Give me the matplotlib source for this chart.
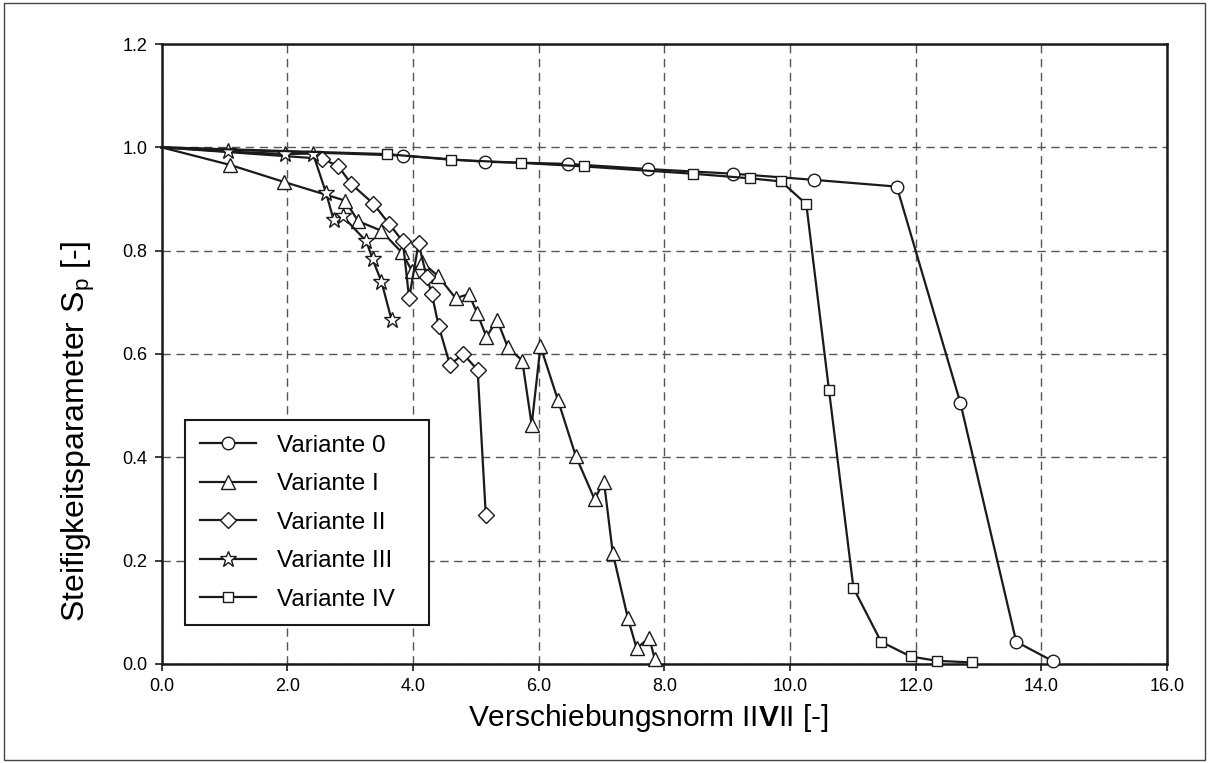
import matplotlib
matplotlib.use("Agg")
import matplotlib.pyplot as plt
from matplotlib.patches import Rectangle

plt.rcParams['font.family'] = ['Liberation Sans', 'DejaVu Sans']
plt.rcParams['mathtext.fontset'] = 'custom'
plt.rcParams['mathtext.rm'] = 'Liberation Sans'
plt.rcParams['mathtext.bf'] = 'Liberation Sans:bold'

# Variante 0 (circles)
x_v0 = [0.0, 3.84, 5.14, 6.46, 7.74, 9.09, 10.39, 11.70, 12.71, 13.60, 14.19]
y_v0 = [1.0, 0.984, 0.972, 0.968, 0.958, 0.949, 0.937, 0.924, 0.506, 0.043, 0.005]

# Variante I (triangles)
x_v1 = [0.0, 1.09, 1.95, 2.92, 3.13, 3.49, 3.82, 3.99, 4.14, 4.40, 4.68, 4.89, 5.02,
        5.17, 5.34, 5.51, 5.74, 5.89, 6.03, 6.31, 6.59, 6.89, 7.04, 7.18, 7.42,
        7.56, 7.76, 7.85]
y_v1 = [1.0, 0.966, 0.933, 0.897, 0.857, 0.839, 0.797, 0.760, 0.778, 0.751, 0.708,
        0.716, 0.680, 0.633, 0.666, 0.613, 0.587, 0.463, 0.615, 0.510, 0.403, 0.319,
        0.353, 0.215, 0.089, 0.030, 0.051, 0.009]

# Variante II (diamonds)
x_v2 = [0.0, 2.55, 2.81, 3.02, 3.37, 3.62, 3.84, 3.94, 4.09, 4.22, 4.30, 4.41,
        4.59, 4.80, 5.03, 5.16]
y_v2 = [1.0, 0.978, 0.964, 0.929, 0.891, 0.852, 0.818, 0.708, 0.814, 0.749, 0.717,
        0.654, 0.579, 0.600, 0.569, 0.288]

# Variante III (stars)
x_v3 = [0.0, 1.05, 1.96, 2.41, 2.62, 2.74, 2.88, 3.26, 3.36, 3.50, 3.66]
y_v3 = [1.0, 0.992, 0.987, 0.988, 0.911, 0.859, 0.867, 0.818, 0.783, 0.740, 0.666]

# Variante IV (squares)
x_v4 = [0.0, 3.58, 4.60, 5.72, 6.73, 8.45, 9.37, 9.86, 10.26, 10.62, 11.01, 11.45,
        11.92, 12.34, 12.89]
y_v4 = [1.0, 0.987, 0.976, 0.970, 0.963, 0.949, 0.940, 0.934, 0.890, 0.531, 0.147,
        0.043, 0.0145, 0.006, 0.003]

labels = ['Variante 0', 'Variante I', 'Variante II', 'Variante III', 'Variante IV']
x_ticks = [0.0, 2.0, 4.0, 6.0, 8.0, 10.0, 12.0, 14.0, 16.0]
y_ticks = [0.0, 0.2, 0.4, 0.6, 0.8, 1.0, 1.2]

series = [
    (x_v0, y_v0, 'o', 9),
    (x_v1, y_v1, '^', 10),
    (x_v2, y_v2, 'D', 8),
    (x_v3, y_v3, '*', 12),
    (x_v4, y_v4, 's', 7),
]

fig = plt.figure(figsize=(12.09, 7.63), dpi=100)
ax = fig.add_axes([0.1336, 0.1298, 0.8317, 0.8125])

for (xs, ys, m, ms), lab in zip(series, labels):
    ax.plot(xs, ys, color='#1a1a1a', lw=1.6, marker=m, ms=ms, mfc='white',
            mec='#1a1a1a', mew=1.0, markevery=slice(1, None), label=lab,
            clip_on=False, zorder=3)

ax.set_xlim(0, 16)
ax.set_ylim(0, 1.2)
ax.set_xticks(x_ticks)
ax.set_yticks(y_ticks)
ax.set_xticklabels([f'{v:.1f}' for v in x_ticks], fontsize=13)
ax.set_yticklabels([f'{v:.1f}' for v in y_ticks], fontsize=13)
ax.tick_params(direction='out', length=5, width=1.2, color='#1a1a1a', pad=5)

ax.grid(True, color='#555555', lw=1.0, linestyle=(0, (6, 4)))
ax.set_axisbelow(True)
for sp in ax.spines.values():
    sp.set_linewidth(1.8)
    sp.set_color('#1a1a1a')

ax.set_xlabel(r'Verschiebungsnorm II$\mathbf{V}$II [-]', fontsize=21.5)
ax.set_ylabel(r'Steifigkeitsparameter S$_\mathregular{p}$ [-]', fontsize=23)
ax.xaxis.set_label_coords(0.484, -0.062)
ax.yaxis.set_label_coords(-0.064, 0.375)

leg = ax.legend(loc='upper left', bbox_to_anchor=(0.0234, 0.3935, 0.2427, 0.0),
                mode='expand', borderaxespad=0,
                fontsize=17.5, handlelength=2.3, handletextpad=0.9, labelspacing=0.68,
                borderpad=0.6, fancybox=False, framealpha=1, edgecolor='#1a1a1a')
leg.get_frame().set_linewidth(1.5)

fig.patches.append(Rectangle((0.003, 0.004), 0.994, 0.992, transform=fig.transFigure,
                             fill=False, edgecolor='#444444', lw=1.0))

fig.savefig('out.png', dpi=100)
